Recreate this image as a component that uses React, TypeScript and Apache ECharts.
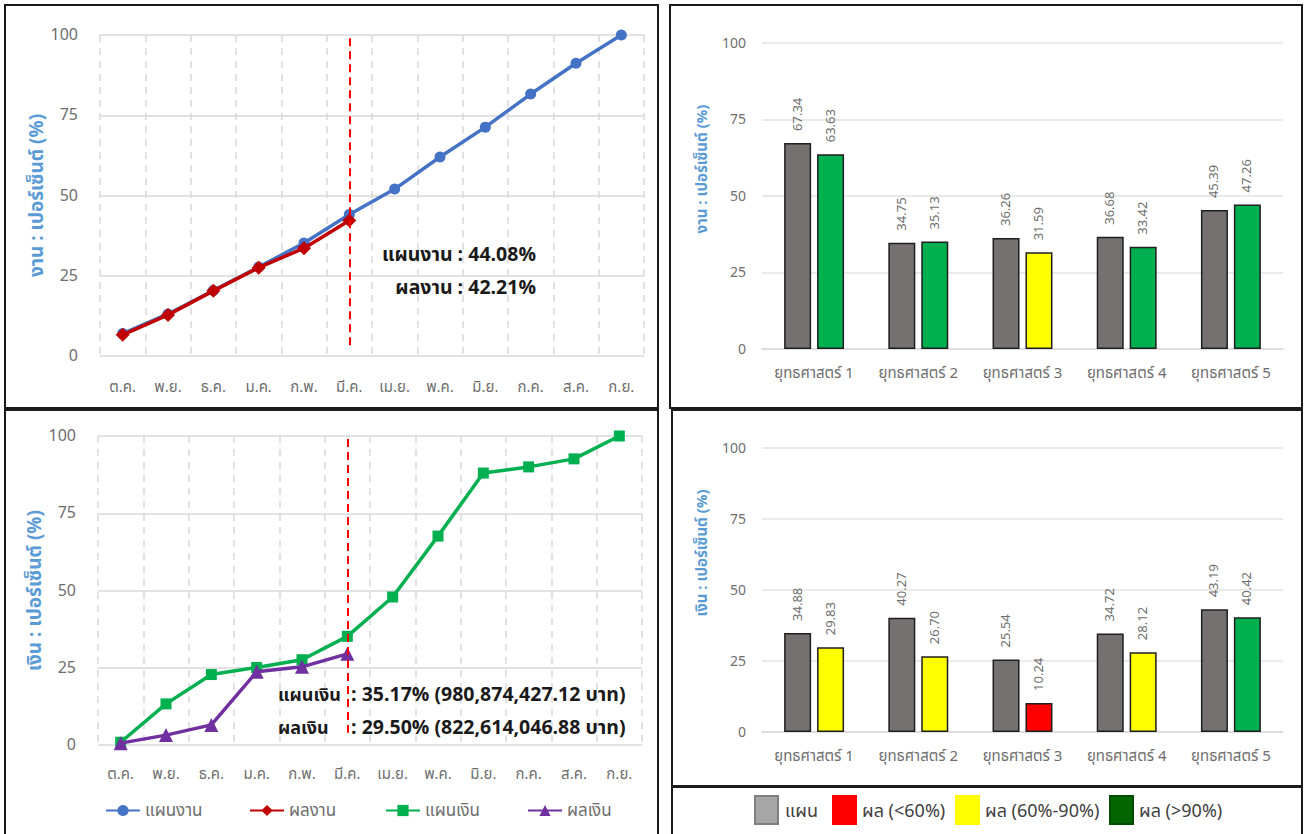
import React, { useEffect, useRef } from "react";
import * as echarts from "echarts";

const months = ["ต.ค.", "พ.ย.", "ธ.ค.", "ม.ค.", "ก.พ.", "มี.ค.", "เม.ย.", "พ.ค.", "มิ.ย.", "ก.ค.", "ส.ค.", "ก.ย."];
const workPlan = [7.0, 13.1, 20.4, 27.7, 35.2, 44.08, 52.0, 62.0, 71.3, 81.6, 91.2, 100];
const workResult = [6.6, 12.8, 20.3, 27.5, 33.6, 42.21];
const moneyPlan = [0.9, 13.3, 22.8, 25.1, 27.6, 35.17, 47.9, 67.6, 88.0, 90.0, 92.6, 100];
const moneyResult = [0.6, 3.2, 6.5, 23.7, 25.3, 29.5];
const currentMonth = "มี.ค.";

const strategies = ["ยุทธศาสตร์ 1", "ยุทธศาสตร์ 2", "ยุทธศาสตร์ 3", "ยุทธศาสตร์ 4", "ยุทธศาสตร์ 5"];
const workStratPlan = [67.34, 34.75, 36.26, 36.68, 45.39];
const workStratResult = [63.63, 35.13, 31.59, 33.42, 47.26];
const moneyStratPlan = [34.88, 40.27, 25.54, 34.72, 43.19];
const moneyStratResult = [29.83, 26.7, 10.24, 28.12, 40.42];

const workNote = ["แผนงาน : 44.08%", "ผลงาน : 42.21%"];
const moneyNoteLabels = ["แผนเงิน", "ผลเงิน"];
const moneyNoteValues = [": 35.17% (980,874,427.12 บาท)", ": 29.50% (822,614,046.88 บาท)"];
const legendItems = ["แผน", "ผล (<60%)", "ผล (60%-90%)", "ผล (>90%)"];

const FONT = 'Tahoma, "Noto Sans Thai", "Noto Sans", sans-serif';
const TICK = "#6e6e6e";
const GRID = "#d9d9d9";
const NAMEC = "#5b9bd5";

function resultColor(r: number, p: number) {
  const ratio = r / p;
  if (ratio < 0.6) return "#ff0000";
  if (ratio < 0.9) return "#ffff00";
  return "#00b050";
}

export default function App() {
  const ref = useRef<HTMLDivElement>(null);
  useEffect(() => {
    if (!ref.current) return;
    const chart = echarts.init(ref.current, null, { renderer: "svg" });

    const lineX = (gi: number, margin: number) => ({
      type: "category",
      gridIndex: gi,
      data: months,
      boundaryGap: true,
      axisLine: { show: false },
      axisTick: { show: false },
      axisLabel: { color: TICK, fontSize: 15, margin, fontFamily: FONT },
      splitLine: { show: true, lineStyle: { color: GRID, width: 1.5, type: [7, 6] } },
    });
    const lineY = (gi: number, name: string) => ({
      type: "value",
      gridIndex: gi,
      min: 0,
      max: 100,
      interval: 25,
      name,
      nameLocation: "middle",
      nameRotate: 90,
      nameGap: 52,
      nameTextStyle: { color: NAMEC, fontSize: 19, fontWeight: "bold", fontFamily: FONT },
      axisLine: { show: false },
      axisTick: { show: false },
      axisLabel: { color: TICK, fontSize: 16, margin: 22, fontFamily: FONT },
      splitLine: { lineStyle: { color: GRID, width: 1.5 } },
    });
    const barX = (gi: number, margin: number) => ({
      type: "category",
      gridIndex: gi,
      data: strategies,
      axisLine: { show: true, lineStyle: { color: GRID, width: 1.5 } },
      axisTick: { show: false },
      axisLabel: { color: TICK, fontSize: 15, margin, fontFamily: FONT },
    });
    const barY = (gi: number, name: string, pad: number) => ({
      type: "value",
      gridIndex: gi,
      min: 0,
      max: 100,
      interval: 25,
      name,
      nameLocation: "middle",
      nameRotate: 90,
      nameGap: 52,
      nameTextStyle: { color: NAMEC, fontSize: 15, fontWeight: "bold", fontFamily: FONT, padding: [0, 0, 0, pad] },
      axisLine: { show: false },
      axisTick: { show: false },
      axisLabel: { color: TICK, fontSize: 14, margin: 16, fontFamily: FONT },
      splitLine: { lineStyle: { color: "#e3e3e3", width: 1.5 } },
    });

    const barLabel = {
      show: true,
      position: "top",
      rotate: 90,
      align: "left",
      verticalAlign: "middle",
      distance: 12,
      fontSize: 13,
      color: "#6e6e6e",
      fontFamily: FONT,
      formatter: (p: any) => Number(p.value).toFixed(2),
    };
    const barBase = {
      type: "bar",
      barWidth: 27,
      barGap: "22%",
      label: barLabel,
    };

    const lineLegend = (name: string, left: number) => ({
      data: [name],
      left,
      top: 802,
      padding: 0,
      itemWidth: 34,
      itemHeight: 14,
      itemGap: 0,
      textStyle: { color: TICK, fontSize: 17, fontFamily: FONT },
    });

    const border = (x: number, y: number, w: number, h: number) => ({
      type: "rect",
      shape: { x, y, width: w, height: h },
      style: { fill: "none", stroke: "#1a1a1a", lineWidth: 2 },
      silent: true,
      z: 100,
    });

    const legendSquares = [
      { x: 755, fill: "#a6a6a6", stroke: "#7f7f7f" },
      { x: 833, fill: "#ff0000", stroke: "#ff0000" },
      { x: 956, fill: "#ffff00", stroke: "#ffff00" },
      { x: 1110, fill: "#006400", stroke: "#004d00" },
    ];
    const legendTextX = [785, 862, 985, 1139];

    const noteStyle = { fontSize: 19.5, fontWeight: "bold", fill: "#1a1a1a", verticalAlign: "middle", fontFamily: FONT };

    const graphic: any[] = [
      border(5, 5, 653, 403),
      border(5, 410, 653, 430),
      border(670, 5, 632, 403),
      border(672, 410, 630, 376),
      border(672, 787, 630, 52),
      ...workNote.map((t, i) => ({
        type: "text",
        x: 536,
        y: 255 + i * 33,
        style: { ...noteStyle, text: t, align: "right" },
        z: 50,
      })),
      ...moneyNoteLabels.map((t, i) => ({
        type: "text",
        x: 278,
        y: 695 + i * 33,
        style: { ...noteStyle, fontSize: 18, text: t, align: "left" },
        z: 50,
      })),
      ...moneyNoteValues.map((t, i) => ({
        type: "text",
        x: 351,
        y: 695 + i * 33,
        style: { ...noteStyle, text: t, align: "left" },
        z: 50,
      })),
      ...legendSquares.map((s) => ({
        type: "rect",
        shape: { x: s.x, y: 796, width: 23, height: 28 },
        style: { fill: s.fill, stroke: s.stroke, lineWidth: 2 },
      })),
      ...legendItems.map((t, i) => ({
        type: "text",
        x: legendTextX[i],
        y: 811,
        style: { text: t, fontSize: 18, fill: "#404040", align: "left", verticalAlign: "middle", fontFamily: FONT },
      })),
    ];

    const option: any = {
      animation: false,
      backgroundColor: "#ffffff",
      textStyle: { fontFamily: FONT },
      grid: [
        { left: 100, top: 35, width: 544, height: 321 },
        { left: 98, top: 436, width: 544, height: 309 },
        { left: 762, top: 43, width: 521, height: 306 },
        { left: 762, top: 448, width: 521, height: 284 },
      ],
      xAxis: [lineX(0, 24), lineX(1, 22), barX(2, 17), barX(3, 17)],
      yAxis: [
        lineY(0, "งาน : เปอร์เซ็นต์ (%)"),
        lineY(1, "เงิน : เปอร์เซ็นต์ (%)"),
        barY(2, "งาน : เปอร์เซ็นต์ (%)", 54),
        barY(3, "เงิน : เปอร์เซ็นต์ (%)", 74),
      ],
      legend: [
        lineLegend("แผนงาน", 105),
        lineLegend("ผลงาน", 249),
        lineLegend("แผนเงิน", 385),
        lineLegend("ผลเงิน", 527),
      ],
      series: [
        {
          name: "แผนงาน",
          type: "line",
          xAxisIndex: 0,
          yAxisIndex: 0,
          data: workPlan,
          symbol: "circle",
          symbolSize: 11,
          lineStyle: { width: 3.5, color: "#4472c4" },
          itemStyle: { color: "#4472c4" },
          z: 3,
          markLine: {
            silent: true,
            symbol: "none",
            label: { show: false },
            lineStyle: { color: "#ff0000", width: 2, type: [8, 5] },
            data: [[{ coord: [currentMonth, 99] }, { coord: [currentMonth, 2.5] }]],
          },
        },
        {
          name: "ผลงาน",
          type: "line",
          xAxisIndex: 0,
          yAxisIndex: 0,
          data: workResult,
          symbol: "diamond",
          symbolSize: 14,
          lineStyle: { width: 3.5, color: "#c00000" },
          itemStyle: { color: "#c00000" },
          z: 4,
        },
        {
          name: "แผนเงิน",
          type: "line",
          xAxisIndex: 1,
          yAxisIndex: 1,
          data: moneyPlan,
          symbol: "rect",
          symbolSize: 11,
          lineStyle: { width: 3.5, color: "#00b050" },
          itemStyle: { color: "#00b050" },
          z: 3,
          markLine: {
            silent: true,
            symbol: "none",
            label: { show: false },
            lineStyle: { color: "#ff0000", width: 2, type: [8, 5] },
            data: [[{ coord: [currentMonth, 99] }, { coord: [currentMonth, 4] }]],
          },
        },
        {
          name: "ผลเงิน",
          type: "line",
          xAxisIndex: 1,
          yAxisIndex: 1,
          data: moneyResult,
          symbol: "triangle",
          symbolSize: 14,
          lineStyle: { width: 3.5, color: "#7030a0" },
          itemStyle: { color: "#7030a0" },
          z: 4,
        },
        {
          ...barBase,
          name: "แผน",
          xAxisIndex: 2,
          yAxisIndex: 2,
          data: workStratPlan,
          itemStyle: { color: "#767171", borderColor: "#1f1f1f", borderWidth: 1.5 },
        },
        {
          ...barBase,
          name: "ผล",
          xAxisIndex: 2,
          yAxisIndex: 2,
          data: workStratResult.map((v, i) => ({
            value: v,
            itemStyle: { color: resultColor(v, workStratPlan[i]) },
          })),
          itemStyle: { borderColor: "#1f1f1f", borderWidth: 1.5 },
        },
        {
          ...barBase,
          name: "แผน",
          xAxisIndex: 3,
          yAxisIndex: 3,
          data: moneyStratPlan,
          itemStyle: { color: "#767171", borderColor: "#1f1f1f", borderWidth: 1.5 },
        },
        {
          ...barBase,
          name: "ผล",
          xAxisIndex: 3,
          yAxisIndex: 3,
          data: moneyStratResult.map((v, i) => ({
            value: v,
            itemStyle: { color: resultColor(v, moneyStratPlan[i]) },
          })),
          itemStyle: { borderColor: "#1f1f1f", borderWidth: 1.5 },
        },
      ],
      graphic,
    };
    chart.setOption(option);
    return () => chart.dispose();
  }, []);

  return (
    <div
      ref={ref}
      style={{ position: "absolute", left: 0, top: 0, width: 1304, height: 834, background: "#fff" }}
    />
  );
}
